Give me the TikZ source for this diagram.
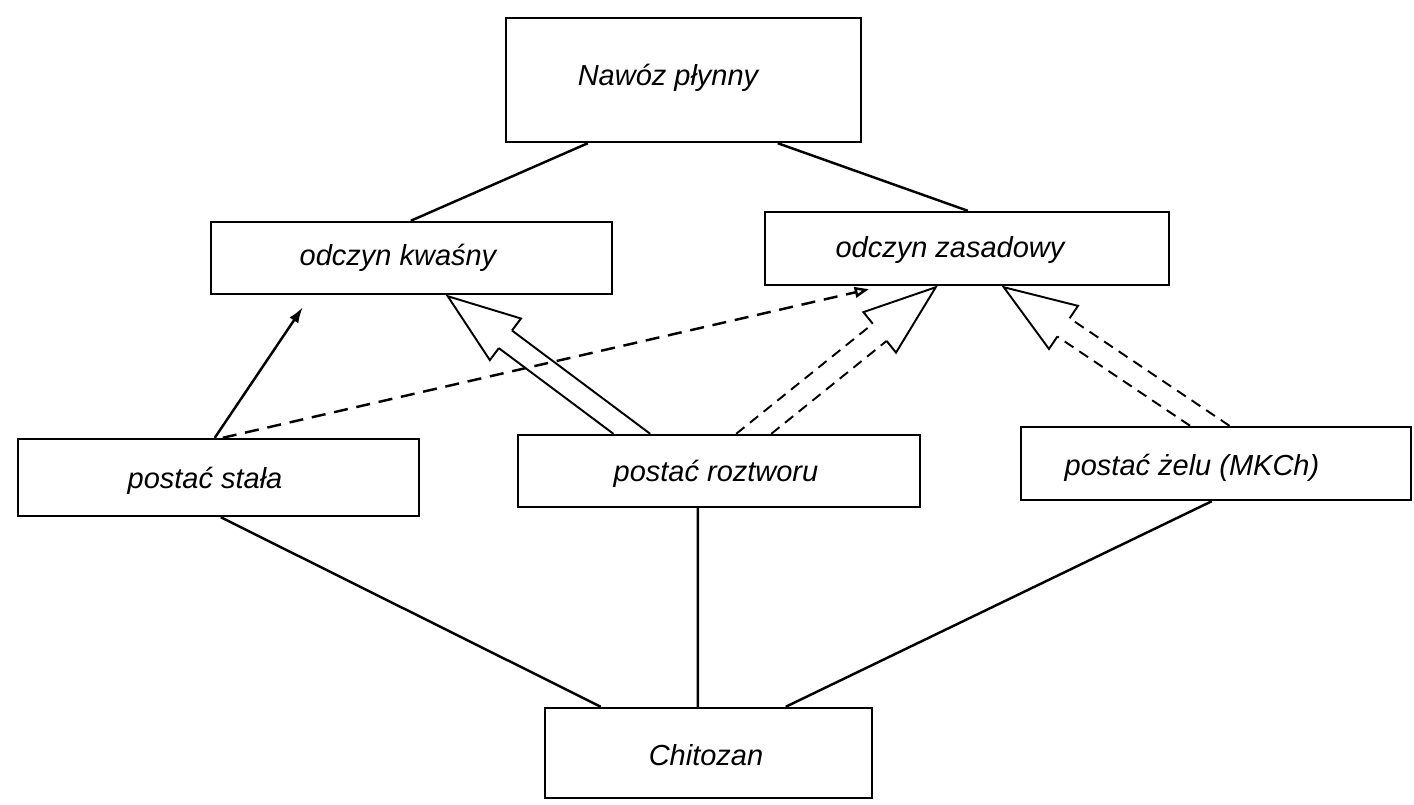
\documentclass[tikz,border=0pt]{standalone}
\usepackage{fontspec}
\setmainfont{Liberation Sans}
\usetikzlibrary{calc,arrows.meta}
\newcommand\hollowarr[4]{%
  \coordinate (#1a) at #2;
  \coordinate (#1t) at #3;
  \coordinate (#1h) at ([xshift=1cm]#1a);
  \coordinate (#1p) at ($(#1t)!1.44cm!(#1a)$);
  \coordinate (#1x1) at ($(#1a)!0.22cm!90:(#1t)$);
  \coordinate (#1x2) at ($(#1a)!0.22cm!-90:(#1t)$);
  \coordinate (#1p1) at ($(#1p)!0.22cm!90:(#1t)$);
  \coordinate (#1p2) at ($(#1p)!0.22cm!-90:(#1t)$);
  \coordinate (#1a1) at (intersection of #1p1--#1x1 and #1a--#1h);
  \coordinate (#1a2) at (intersection of #1p2--#1x2 and #1a--#1h);
  \coordinate (#1b1) at ($(#1p)!0.52cm!90:(#1t)$);
  \coordinate (#1b2) at ($(#1p)!0.52cm!-90:(#1t)$);
  \draw[#4] (#1a1) -- (#1p1);
  \draw[#4] (#1a2) -- (#1p2);
  \draw[hsolid,line join=miter] (#1p1) -- (#1b1) -- (#1t) -- (#1b2) -- (#1p2);
}
\begin{document}
\begin{tikzpicture}[x=0.02cm,y=-0.02cm,
  box/.style={draw,line width=1.4pt,inner sep=0pt},
  lbl/.style={font=\fontsize{16.5}{18}\selectfont\itshape,inner sep=0pt},
  conn/.style={line width=1.4pt},
  thinarr/.style={line width=1.4pt,-{Latex[length=9pt,width=6pt]}},
  dasharr/.style={line width=1.4pt,dash pattern=on 8pt off 5pt,-{Triangle[open,length=8pt,width=6pt]}},
  hsolid/.style={line width=1.1pt},
  hdash/.style={line width=1.1pt,dash pattern=on 6pt off 4pt},
]
\useasboundingbox (0,0) rectangle (1414,805);

% boxes
\node[box,minimum width=7.10cm,minimum height=2.48cm] (N) at (683.5,80) {};
\node[box,minimum width=8.02cm,minimum height=1.44cm] (K) at (411.5,258) {};
\node[box,minimum width=8.08cm,minimum height=1.46cm] (Z) at (967,248.5) {};
\node[box,minimum width=8.02cm,minimum height=1.54cm] (S) at (218.5,477.5) {};
\node[box,minimum width=8.04cm,minimum height=1.44cm] (R) at (719,471) {};
\node[box,minimum width=7.80cm,minimum height=1.46cm] (G) at (1216,463.5) {};
\node[box,minimum width=6.54cm,minimum height=1.80cm] (C) at (708.5,753) {};

% labels
\node[lbl] (Nt) at (668,78) {Nawóz płynny};
\node[lbl] (Kt) at (398,258) {odczyn kwaśny};
\node[lbl] (Zt) at (950,250) {odczyn zasadowy};
\node[lbl] (St) at (205,481) {postać stała};
\node[lbl] (Rt) at (716,474) {postać roztworu};
\node[lbl] (Gt) at (1192,468) {postać żelu (MKCh)};
\node[lbl] (Ct) at (706,755) {Chitozan};

% plain connectors
\draw[conn] ([xshift=1.66cm]N.south west) -- ([xshift=4.02cm]K.north west);
\draw[conn] ([xshift=5.46cm]N.south west) -- ([xshift=4.08cm]Z.north west);
\draw[conn] ([xshift=4.08cm]S.south west) -- ([xshift=1.14cm]C.north west);
\draw[conn] ([xshift=3.62cm]R.south west) -- ([xshift=3.08cm]C.north west);
\draw[conn] ([xshift=3.84cm]G.south west) -- ([xshift=4.84cm]C.north west);

% thin arrows
\draw[thinarr] ([xshift=3.96cm]S.north west) -- ([xshift=1.86cm,yshift=-0.24cm]K.south west);
\draw[dasharr] ([xshift=4.12cm]S.north west) -- ([xshift=2.10cm,yshift=-0.06cm]Z.south west);

% hollow arrows
\hollowarr{ha}{([xshift=2.30cm]R.north west)}{([xshift=4.76cm,yshift=-0.02cm]K.south west)}{hsolid}
\hollowarr{hb}{([xshift=4.74cm]R.north west)}{([xshift=3.44cm,yshift=-0.02cm]Z.south west)}{hdash}
\hollowarr{hc}{([xshift=3.80cm]G.north west)}{([xshift=4.80cm,yshift=-0.02cm]Z.south west)}{hdash}
\end{tikzpicture}
\end{document}
